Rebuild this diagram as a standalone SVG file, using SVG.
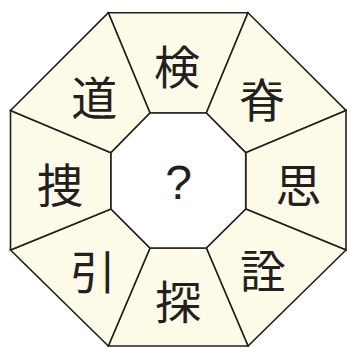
<svg xmlns="http://www.w3.org/2000/svg" width="347" height="347" viewBox="0 0 347 347">
<style>
.seg{fill:#fefbe9;stroke:#231f20;stroke-width:1.6;stroke-linejoin:miter}
.inner{fill:#ffffff;stroke:#231f20;stroke-width:1.6}
.t{font-family:"Noto Sans CJK JP","Noto Sans CJK SC",sans-serif;font-size:46px;fill:#231f20;text-anchor:middle;dominant-baseline:central}
.q{font-family:"Liberation Sans",Arial,sans-serif;font-size:48px;fill:#231f20;text-anchor:middle}
</style>
<rect width="347" height="347" fill="#ffffff"/>
<g id="n-top"><polygon class="seg" points="108.3,12.7 248,12.7 206.3,113 150,113"/><text class="t" x="177" y="63.5">検</text></g>
<g id="n-topright"><polygon class="seg" points="248,12.7 346,110.5 245.7,152.7 206.3,113"/><text class="t" x="262" y="97">脊</text></g>
<g id="n-right"><polygon class="seg" points="346,110.5 346,250 245.7,209 245.7,152.7"/><text class="t" x="298.5" y="182">思</text></g>
<g id="n-bottomright"><polygon class="seg" points="346,250 248,346 206.3,248 245.7,209"/><text class="t" x="263" y="268">詮</text></g>
<g id="n-bottom"><polygon class="seg" points="248,346 108.3,346 150,248 206.3,248"/><text class="t" x="178.3" y="299">探</text></g>
<g id="n-bottomleft"><polygon class="seg" points="108.3,346 10.5,250 111,209 150,248"/><text class="t" x="93" y="269">引</text></g>
<g id="n-left"><polygon class="seg" points="10.5,250 10.5,110.5 111,152.7 111,209"/><text class="t" x="60" y="182">捜</text></g>
<g id="n-topleft"><polygon class="seg" points="10.5,110.5 108.3,12.7 150,113 111,152.7"/><text class="t" x="94.2" y="94.5">道</text></g>
<g id="n-center"><polygon class="inner" points="150,113 206.3,113 245.7,152.7 245.7,209 206.3,248 150,248 111,209 111,152.7"/><text class="q" x="178.5" y="198.5">?</text></g>
<g id="connectors"></g>
</svg>
